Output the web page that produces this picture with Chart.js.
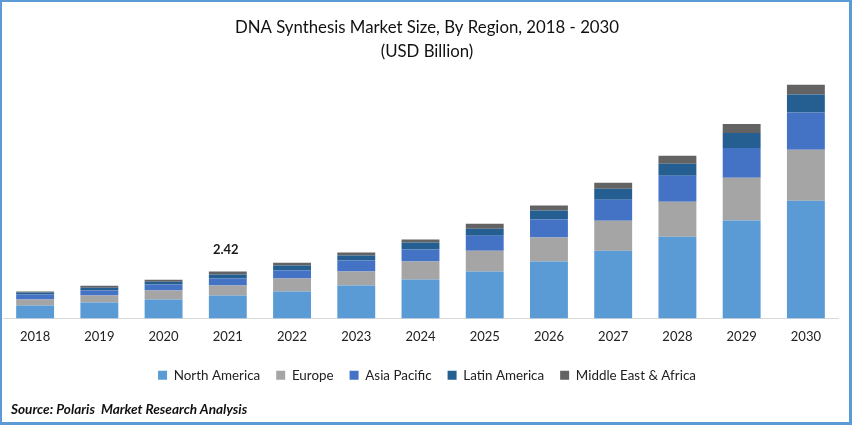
<!DOCTYPE html>
<html>
<head>
<meta charset="utf-8">
<title>DNA Synthesis Market Size</title>
<script src="https://cdn.jsdelivr.net/npm/chart.js@4/dist/chart.umd.min.js"></script>
<style>
  html, body { margin: 0; padding: 0; background: #fff; }
  #wrap { position: relative; width: 852px; height: 425px; overflow: hidden; }
  #frame {
    position: absolute; left: 0; top: 0; width: 852px; height: 425px;
    box-sizing: border-box; pointer-events: none;
    border: solid #5b9bd5; border-width: 2px 3px 3px 2px;
  }
  #source {
    position: absolute; left: 11px; top: 401px;
    font: italic bold 13.6px Lato, 'Open Sans', sans-serif;
    color: #111; white-space: pre;
  }
</style>
</head>
<body>
<div id="wrap">
  <canvas id="marketChart" width="852" height="425"></canvas>
  <div id="source">Source: Polaris  Market Research Analysis</div>
  <div id="frame"></div>
</div>
<script>
const years = ['2018', '2019', '2020', '2021', '2022', '2023', '2024', '2025', '2026', '2027', '2028', '2029', '2030'];
const northAmerica = [0.67, 0.82, 0.98, 1.18, 1.39, 1.70, 2.01, 2.42, 2.94, 3.50, 4.22, 5.05, 6.08];
const europe = [0.31, 0.36, 0.46, 0.52, 0.67, 0.72, 0.93, 1.08, 1.24, 1.54, 1.80, 2.21, 2.63];
const asiaPacific = [0.26, 0.26, 0.31, 0.36, 0.41, 0.57, 0.62, 0.77, 0.93, 1.08, 1.34, 1.54, 1.91];
const latinAmerica = [0.10, 0.15, 0.15, 0.21, 0.26, 0.26, 0.36, 0.36, 0.46, 0.57, 0.62, 0.77, 0.93];
const middleEastAfrica = [0.05, 0.10, 0.10, 0.15, 0.15, 0.15, 0.15, 0.26, 0.26, 0.31, 0.41, 0.46, 0.51];
const calloutYear = '2021';
const calloutText = '2.42';

const fontFamily = "Lato, 'Open Sans', sans-serif";

// prints the one total the source labels, above its stack
const calloutPlugin = {
  id: 'callout',
  afterDatasetsDraw(chart) {
    const idx = years.indexOf(calloutYear);
    const total = chart.data.datasets.reduce((sum, ds) => sum + ds.data[idx], 0);
    const { ctx, scales } = chart;
    ctx.save();
    ctx.font = `bold 13px ${fontFamily}`;
    ctx.fillStyle = '#1a1a1a';
    ctx.textAlign = 'center';
    ctx.textBaseline = 'middle';
    ctx.fillText(calloutText, scales.x.getPixelForValue(idx) - 2, scales.y.getPixelForValue(total) - 22);
    ctx.restore();
  }
};

function series(label, data, color) {
  return { label, data, backgroundColor: color, barPercentage: 0.59, categoryPercentage: 1 };
}

new Chart(document.getElementById('marketChart'), {
  type: 'bar',
  data: {
    labels: years,
    datasets: [
      series('North America', northAmerica, '#5b9bd5'),
      series('Europe', europe, '#a5a5a5'),
      series('Asia Pacific', asiaPacific, '#4472c4'),
      series('Latin America', latinAmerica, '#255e91'),
      series('Middle East & Africa', middleEastAfrica, '#636363')
    ]
  },
  plugins: [calloutPlugin],
  options: {
    responsive: false,
    animation: false,
    layout: { padding: { left: 3, right: 1, top: 16, bottom: 33 } },
    plugins: {
      tooltip: { enabled: false },
      title: {
        display: true,
        text: ['DNA Synthesis Market Size, By Region, 2018 - 2030', '(USD Billion)'],
        color: '#111',
        font: { family: fontFamily, size: 16.8, weight: 'normal', lineHeight: 1.42 },
        padding: { top: 0, bottom: 8 }
      },
      legend: {
        position: 'bottom',
        labels: {
          boxWidth: 9,
          boxHeight: 9,
          padding: 16,
          color: '#222',
          font: { family: fontFamily, size: 13.4 }
        }
      }
    },
    scales: {
      x: {
        stacked: true,
        grid: { display: false },
        border: { color: '#d9d9d9', width: 1 },
        afterFit: (scale) => { scale.height += 4.5; },
        ticks: {
          color: '#222',
          font: { family: fontFamily, size: 13 },
          padding: 3,
          maxRotation: 0
        }
      },
      y: {
        stacked: true,
        position: 'right',
        min: 0,
        max: 12.73,
        grid: { display: false },
        border: { display: false },
        ticks: { display: false },
        afterFit: (scale) => { scale.width = 13; }
      }
    }
  }
});
</script>
</body>
</html>
